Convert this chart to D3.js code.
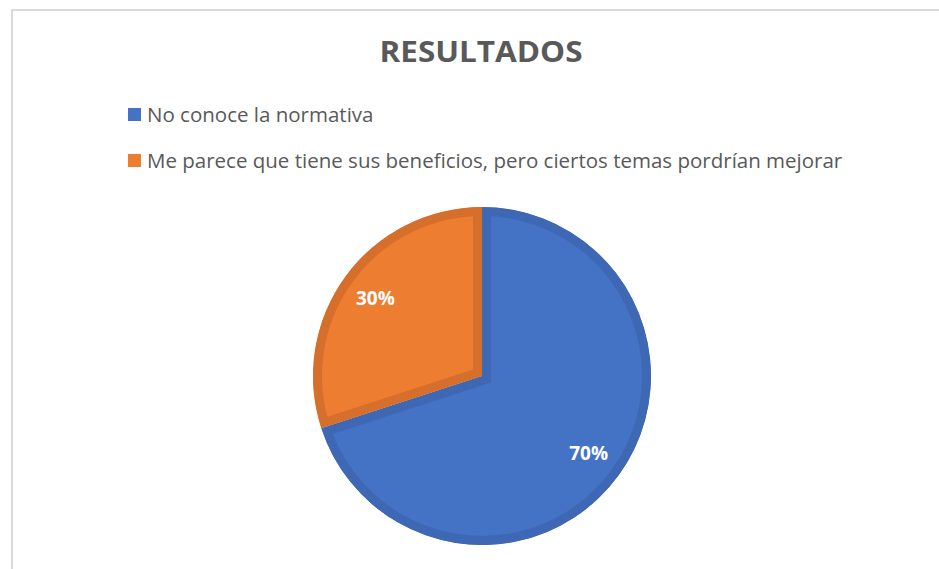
<!DOCTYPE html>
<html><head><meta charset="utf-8">
<script src="https://cdn.jsdelivr.net/npm/d3@7/dist/d3.min.js"></script>
<style>body{margin:0;background:#fff;}svg{display:block;}</style>
</head><body><svg id="c" width="939" height="569"></svg>
<script>
const title = "RESULTADOS";
const categories = ["No conoce la normativa", "Me parece que tiene sus beneficios, pero ciertos temas pordrían mejorar"];
const values = [70, 30];
const labels = ["70%", "30%"];
const colors = ["#4472C4", "#ED7D31"];
const borderColors = ["#3E68B4", "#D56F2B"];

const svg = d3.select("#c");
svg.append("path").attr("d", "M12,569V10H939").attr("fill", "none").attr("stroke", "#d9d9d9").attr("stroke-width", 2);

svg.append("text").attr("x", 481).attr("y", 62).attr("text-anchor", "middle")
  .attr("font-family", "Open Sans").attr("font-weight", "bold").attr("font-size", 29)
  .attr("textLength", 203).attr("lengthAdjust", "spacingAndGlyphs")
  .attr("fill", "#595959").text(title);

const font = "Open Sans";
const lg = svg.append("g");
categories.forEach((c, i) => {
  const y = 115 + i * 46;
  lg.append("rect").attr("x", 128).attr("y", y - 7).attr("width", 13).attr("height", 13).attr("fill", colors[i]);
  lg.append("text").attr("x", 147).attr("y", y + 7).attr("font-family", font).attr("font-size", 20.5)
    .attr("fill", "#595959").text(c);
});

const cx = 482, cy = 376, r = 169;
const pie = d3.pie().sort(null).value(d => d)(values);
const arc = d3.arc().innerRadius(0).outerRadius(r);
const g = svg.append("g").attr("transform", `translate(${cx},${cy})`);
const defs = svg.append("defs");
pie.forEach((p, i) => {
  defs.append("clipPath").attr("id", "clip" + i).append("path").attr("d", arc(p));
  g.append("path").attr("d", arc(p)).attr("fill", colors[i])
    .attr("stroke", borderColors[i]).attr("stroke-width", 18)
    .attr("clip-path", `url(#clip${i})`);
});
const labelArc = d3.arc().innerRadius(r * 0.78).outerRadius(r * 0.78);
pie.forEach((p, i) => {
  const [x, y] = labelArc.centroid(p);
  g.append("text").attr("x", x).attr("y", y).attr("dy", "0.35em").attr("text-anchor", "middle")
    .attr("font-family", font).attr("font-weight", "bold").attr("font-size", 19)
    .attr("fill", "#fff").text(labels[i]);
});
</script></body></html>
